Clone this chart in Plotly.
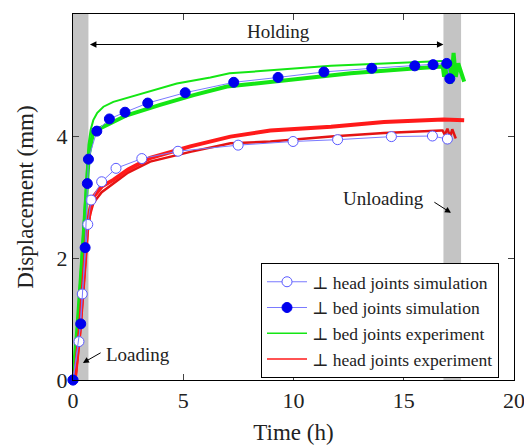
import plotly.graph_objects as go

# ---------------- data ----------------
head_sim_t = [0, 0.27, 0.42, 0.67, 0.82, 1.30, 1.95, 3.12, 4.76, 7.49, 9.98, 12.0, 14.44, 16.3, 16.98]
head_sim_d = [0, 0.63, 1.41, 2.55, 2.95, 3.25, 3.47, 3.63, 3.75, 3.85, 3.91, 3.94, 3.99, 4.00, 3.95]

bed_sim_t = [0, 0.35, 0.55, 0.65, 0.70, 1.08, 1.65, 2.36, 3.39, 5.09, 7.29, 9.3, 11.38, 13.55, 15.5, 16.33, 16.95, 17.09]
bed_sim_d = [0, 0.92, 2.17, 3.22, 3.62, 4.08, 4.28, 4.39, 4.54, 4.71, 4.88, 4.96, 5.05, 5.11, 5.15, 5.17, 5.19, 4.94]

bed_exp_a_t = [0, 0.2, 0.39, 0.55, 0.70, 0.80, 0.92, 1.10, 1.38, 1.83, 3.2, 4.71, 6.23, 7.1, 8.35, 11.7, 14.1, 16.76]
bed_exp_a_d = [0, 0.9, 2.0, 3.0, 3.85, 4.10, 4.26, 4.38, 4.48, 4.56, 4.70, 4.86, 4.96, 5.03, 5.06, 5.15, 5.19, 5.23]

bed_exp_b_t = [0, 0.2, 0.40, 0.58, 0.72, 0.92, 1.68, 2.44, 3.95, 5.47, 6.98, 8.35, 9.56, 11.7, 12.6, 15.6, 16.7,
               16.76, 16.83, 16.98, 17.14, 17.26, 17.36, 17.47, 17.59, 17.74]
bed_exp_b_d = [0, 0.85, 1.9, 3.0, 3.7, 4.07, 4.21, 4.34, 4.51, 4.67, 4.81, 4.86, 4.92, 4.99, 5.03, 5.11, 5.14,
               5.16, 4.97, 5.19, 4.86, 5.36, 4.97, 5.19, 5.03, 4.89]

head_exp_a_t = [0.08, 0.3, 0.55, 0.65, 0.77, 0.92, 1.3, 1.83, 2.5, 3.5, 5.32, 7.14, 8.95, 11.7, 14.1, 16.8, 17.74]
head_exp_a_d = [0, 0.8, 2.0, 2.5, 2.79, 3.0, 3.17, 3.28, 3.45, 3.64, 3.83, 3.99, 4.09, 4.15, 4.23, 4.27, 4.26]

head_exp_b_t = [0.1, 0.32, 0.56, 0.66, 0.78, 0.92, 1.3, 1.83, 2.5, 3.5, 5.32, 7.14, 8.95, 11.7, 14.1, 16.7,
                16.76, 16.86, 16.98, 17.1, 17.2, 17.36]
head_exp_b_d = [0, 0.78, 1.95, 2.45, 2.72, 2.9, 3.08, 3.22, 3.40, 3.58, 3.74, 3.88, 3.91, 3.99, 4.05, 4.09,
                4.09, 4.02, 4.12, 3.99, 4.11, 3.96]

loading_band = [0, 0.7]
unloading_band = [16.8, 17.6]

x_ticks = [0, 5, 10, 15, 20]
y_ticks = [0, 2, 4, 6]

SERIF = "Liberation Serif, DejaVu Serif, serif"
GREEN = "#14e614"
RED = "#ff1a1a"
BLUE_LINE = "#7a7aff"
TXT = "#222"

fig = go.Figure()

# experiments (drawn beneath simulations)
fig.add_trace(go.Scatter(x=bed_exp_a_t, y=bed_exp_a_d, mode="lines",
                         line=dict(color=GREEN, width=2), showlegend=False))
fig.add_trace(go.Scatter(x=bed_exp_b_t, y=bed_exp_b_d, mode="lines",
                         line=dict(color=GREEN, width=4), showlegend=False))
fig.add_trace(go.Scatter(x=head_exp_b_t, y=head_exp_b_d, mode="lines",
                         line=dict(color="#e41414", width=2.5), showlegend=False))
fig.add_trace(go.Scatter(x=head_exp_a_t, y=head_exp_a_d, mode="lines",
                         line=dict(color=RED, width=4), showlegend=False))

# simulations
fig.add_trace(go.Scatter(x=head_sim_t, y=head_sim_d, mode="lines+markers", cliponaxis=False,
                         line=dict(color=BLUE_LINE, width=1),
                         marker=dict(symbol="circle", size=10, color="white",
                                     line=dict(color="#5a5aff", width=1)),
                         name="⊥ head joints simulation", legendrank=1))
fig.add_trace(go.Scatter(x=bed_sim_t, y=bed_sim_d, mode="lines+markers", cliponaxis=False,
                         line=dict(color=BLUE_LINE, width=1),
                         marker=dict(symbol="circle", size=10, color="#0000ee",
                                     line=dict(color="#0000ee", width=1)),
                         name="⊥ bed joints simulation", legendrank=2))

# thin legend entries for the experiments
fig.add_trace(go.Scatter(x=[None], y=[None], mode="lines", line=dict(color=GREEN, width=1.5),
                         name="⊥ bed joints experiment", legendrank=3))
fig.add_trace(go.Scatter(x=[None], y=[None], mode="lines", line=dict(color=RED, width=1.5),
                         name="⊥ head joints experiment", legendrank=4))

# gray bands
for band in (loading_band, unloading_band):
    fig.add_shape(type="rect", xref="x", yref="y", x0=band[0], x1=band[1], y0=0, y1=6,
                  fillcolor="#c4c4c4", line=dict(width=0), layer="below")

# holding double arrow
fig.add_annotation(x=unloading_band[0], y=5.5, ax=loading_band[1], ay=5.5,
                   xref="x", yref="y", axref="x", ayref="y", text="",
                   showarrow=True, arrowhead=2, startarrowhead=2, arrowside="end+start",
                   arrowsize=1.3, startarrowsize=1.3, arrowwidth=1, arrowcolor="black")
fig.add_annotation(x=9.34, y=5.71, xref="x", yref="y", text="Holding", showarrow=False,
                   font=dict(family=SERIF, size=19, color=TXT))

# unloading label & arrow
fig.add_annotation(x=14.07, y=2.98, xref="x", yref="y", text="Unloading", showarrow=False,
                   font=dict(family=SERIF, size=19, color=TXT))
fig.add_annotation(x=17.14, y=2.74, ax=16.32, ay=2.93, xref="x", yref="y", axref="x", ayref="y",
                   text="", showarrow=True, arrowhead=2, arrowsize=1.2, arrowwidth=1, arrowcolor="black")

# loading label & arrow
fig.add_annotation(x=2.93, y=0.41, xref="x", yref="y", text="Loading", showarrow=False,
                   font=dict(family=SERIF, size=19, color=TXT))
fig.add_annotation(x=0.45, y=0.28, ax=1.32, ay=0.46, xref="x", yref="y", axref="x", ayref="y",
                   text="", showarrow=True, arrowhead=2, arrowsize=1.2, arrowwidth=1, arrowcolor="black")

axis_common = dict(showgrid=False, zeroline=False, showline=True, linecolor="black", linewidth=1.3,
                   mirror="ticks", ticks="inside", ticklen=6, tickcolor="#444", tickwidth=1,
                   automargin=False,
                   tickfont=dict(family=SERIF, size=22, color=TXT))

fig.update_xaxes(range=[0, 20], tickvals=x_ticks,
                 title=dict(text="Time (h)", font=dict(family=SERIF, size=23, color=TXT), standoff=12),
                 **axis_common)
fig.update_yaxes(range=[0, 6], tickvals=y_ticks,
                 title=dict(text="Displacement (mm)", font=dict(family=SERIF, size=23, color=TXT), standoff=16),
                 **axis_common)

# the page body adds an 8 px offset, so the figure is sized to fit inside the window
fig.update_layout(
    width=524, height=438,
    margin=dict(l=65, r=18, t=6, b=66),
    paper_bgcolor="white", plot_bgcolor="white",
    legend=dict(x=0.966, y=0.32, xanchor="right", yanchor="top",
                bgcolor="white", bordercolor="black", borderwidth=1,
                font=dict(family=SERIF, size=17.5, color=TXT),
                itemwidth=40, traceorder="normal"),
)

fig.write_html("out.html")
